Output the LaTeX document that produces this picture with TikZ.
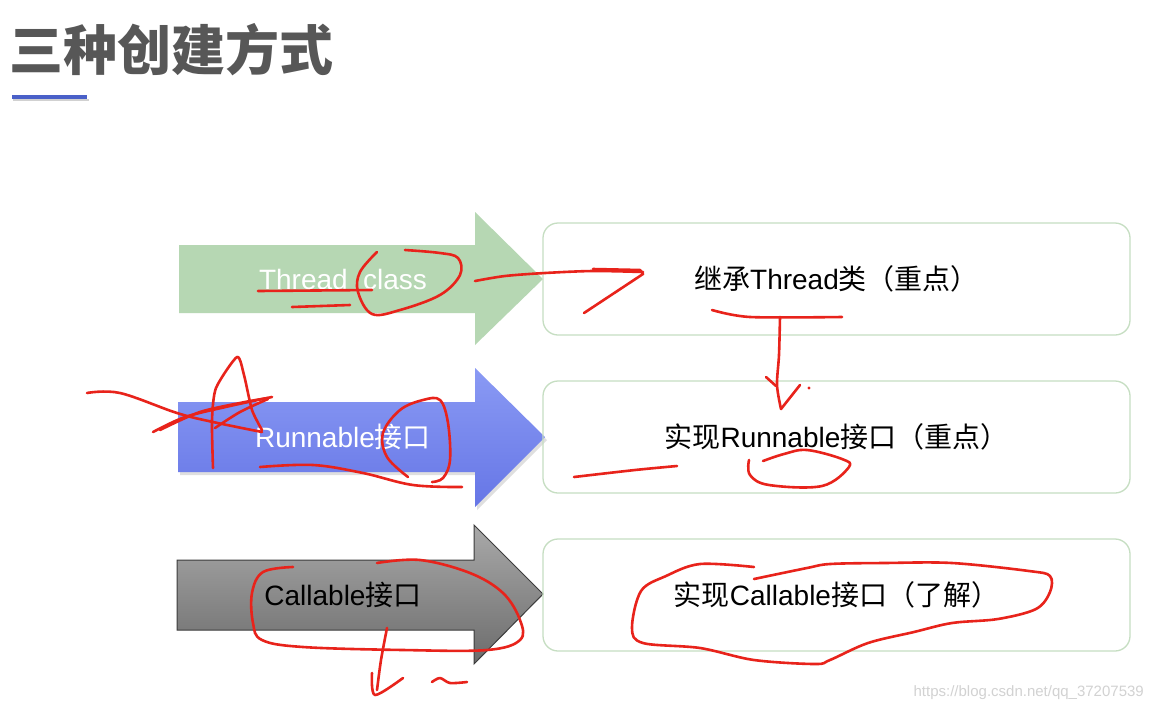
\documentclass[tikz,border=0pt]{standalone}
\usepackage{fontspec}
\setmainfont{Liberation Sans}
\newfontfamily\cjk{Noto Sans CJK SC}
\usetikzlibrary{shadows}
\definecolor{titlegray}{HTML}{575757}
\definecolor{lineblue}{HTML}{4A60C8}
\definecolor{arrowgreen}{HTML}{B6D7B3}
\definecolor{bluetop}{HTML}{8A9AF4}
\definecolor{bluebot}{HTML}{6676E6}
\definecolor{graytop}{HTML}{A9A9A9}
\definecolor{graybot}{HTML}{6C6C6C}
\definecolor{grayedge}{HTML}{3C3C3C}
\definecolor{boxgreen}{HTML}{C6DEC2}
\definecolor{pen}{HTML}{E8231B}
\definecolor{wmark}{HTML}{D2D2D2}
\begin{document}
\begin{tikzpicture}[x=1pt,y=-1pt,
  optbox/.style={draw=boxgreen, line width=1.3pt, rounded corners=15pt,
    minimum width=587pt, minimum height=112pt, inner sep=0pt,
    font=\fontsize{28}{32}\selectfont},
  arrowlabel/.style={inner sep=0pt, font=\fontsize{28}{32}\selectfont},
  scribble/.style={draw=pen, line width=2.6pt, line cap=round, line join=round}
]
\path[use as bounding box, fill=white] (0,0) rectangle (1153,713);

% title
\node[anchor=west, inner sep=0pt, text=titlegray,
  font=\fontsize{54}{60}\selectfont\cjk\bfseries] (title) at (9,50) {三种创建方式};
\fill[black!18] (13,98.5) rectangle (89,101);
\fill[lineblue] (12,95) rectangle (87,98.5);

% arrows
\fill[arrowgreen] (179,245) -- (475,245) -- (475,212) -- (543,279) -- (475,345)
  -- (475,313) -- (179,313) -- cycle;
\shade[top color=bluetop, bottom color=bluebot,
  drop shadow={opacity=0.25, shadow xshift=2pt, shadow yshift=-3pt}]
  (178,402) -- (475,402) -- (475,368) -- (545,437) -- (475,507)
  -- (475,472) -- (178,472) -- cycle;
\shade[top color=graytop, bottom color=graybot, draw=grayedge, line width=1pt]
  (177,560) -- (474,560) -- (474,525) -- (543,594) -- (474,664)
  -- (474,630) -- (177,630) -- cycle;

\node[arrowlabel, text=white] (lthread) at (343,279) {Thread\hspace{0.55em}class};
\node[arrowlabel, text=white] (lrun) at (343,437) {Runnable{\cjk 接口}};
\node[arrowlabel, text=black] (lcall) at (343,595) {Callable{\cjk 接口}};

% boxes
\node[optbox] (bthread) at (836.5,279) {{\cjk 继承}Thread{\cjk 类（重点）}};
\node[optbox] (brun) at (836.5,437) {{\cjk 实现}Runnable{\cjk 接口（重点）}};
\node[optbox] (bcall) at (836.5,595) {{\cjk 实现}Callable{\cjk 接口（了解）}};

% watermark
\node[anchor=east, inner sep=0pt, text=wmark, font=\fontsize{15}{18}\selectfont]
  (wm) at (1144,693) {https://blog.csdn.net/qq\_37207539};

% red hand annotations
\draw[scribble] (258,291) -- (372,290);
\draw[scribble] (292,307) -- (350,305);
\draw[scribble] plot[smooth, tension=0.6] coordinates {(377,252) (360,272) (358,292) (372,314) (400,310) (440,295) (460,275) (458,258) (440,253) (405,250)};
\draw[scribble] plot[smooth, tension=0.5] coordinates {(475,281) (505,276) (545,273) (593,271) (643,272)};
\draw[scribble] (593,269) -- (640,270) -- (643,274) -- (584,313);
\draw[scribble] plot[smooth, tension=0.5] coordinates {(712,310) (750,317) (842,317)};
\draw[scribble] plot[smooth, tension=0.5] coordinates {(780,317) (779,355) (777,385) (781,409)};
\draw[scribble] (766,377) -- (776,386);
\draw[scribble] (781,409) -- (800,385);
\fill[pen] (809,388) circle (1.6);

\draw[scribble] plot[smooth, tension=0.6] coordinates {(87,393) (120,393) (177,413) (213,422) (262,432)};
\draw[scribble] plot[smooth, tension=0.4] coordinates {(213,468) (212,420) (216,388) (237,357) (244,375) (252,410) (262,430)};
\draw[scribble] plot[smooth, tension=0.5] coordinates {(153,432) (185,417) (230,406) (272,397)};
\draw[scribble] plot[smooth, tension=0.5] coordinates {(160,430) (200,412) (245,402) (268,398)};
\draw[scribble] plot[smooth, tension=0.5] coordinates {(215,428) (240,412) (268,399)};
\draw[scribble] plot[smooth, tension=0.6] coordinates {(260,467) (313,465) (363,473) (413,485) (462,487)};
\draw[scribble] plot[smooth, tension=0.6] coordinates {(408,477) (387,457) (383,433) (400,410) (423,400) (440,400) (448,423) (450,460) (443,478) (432,482)};
\draw[scribble] plot[smooth, tension=0.5] coordinates {(574,477) (635,470) (677,466)};
\draw[scribble] plot[smooth, tension=0.6] coordinates {(749,460) (750,475) (769,485) (822,486) (849,467) (842,459) (807,450) (784,454) (763,461)};

\draw[scribble] plot[smooth, tension=0.6] coordinates {(293,567) (263,572) (252,593) (253,623) (262,640) (303,647) (403,650) (487,650) (520,640) (520,620) (503,593) (470,573) (420,560) (377,563)};
\draw[scribble] plot[smooth, tension=0.5] coordinates {(387,628) (381,660) (377,690)};
\draw[scribble] plot[smooth, tension=0.5] coordinates {(372,673) (375,695) (403,678)};
\draw[scribble] plot[smooth, tension=0.5] coordinates {(432,682) (440,678) (450,683) (467,682)};

\draw[scribble] plot[smooth, tension=0.55] coordinates {(754,567) (700,564) (666,576) (641,591) (632,628) (643,643) (700,648) (754,660) (815,664) (830,660) (868,643) (914,632) (952,623) (998,619) (1036,609) (1050,592) (1050,576) (1029,571) (952,563) (884,563) (830,564) (807,568) (754,579)};
\end{tikzpicture}
\end{document}
